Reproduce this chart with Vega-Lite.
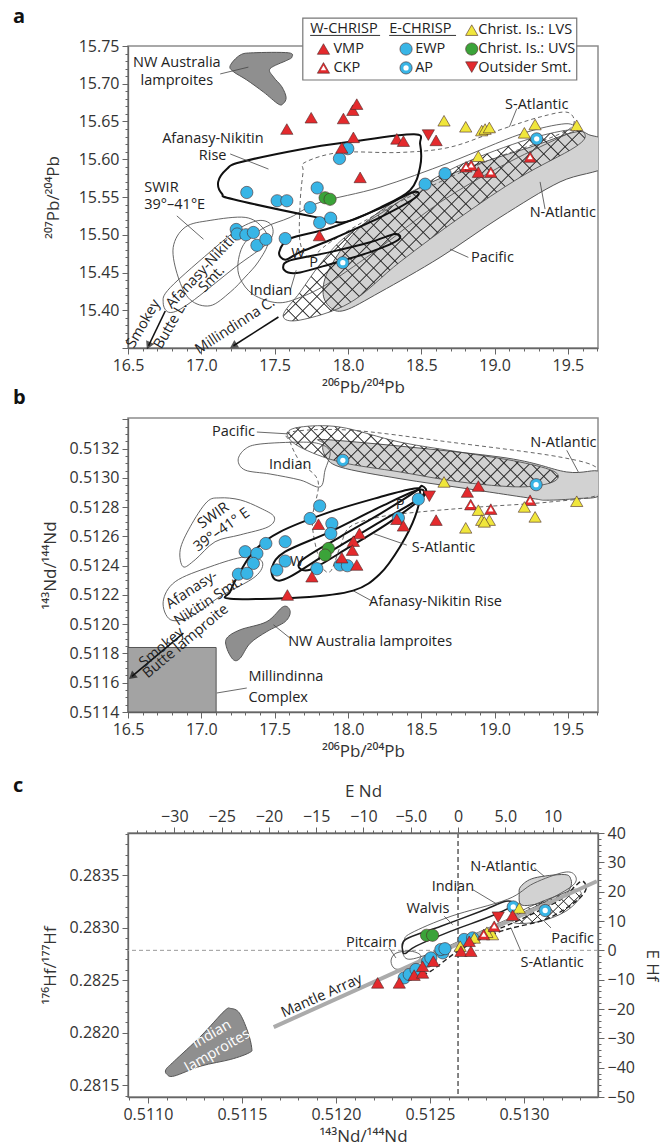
{
"$schema": "https://vega.github.io/schema/vega-lite/v6.json",
"padding": {"left": 12, "top": 6, "right": 4, "bottom": 2},
"config": {
 "font": "Open Sans",
 "view": {"stroke": "#8c8c8c", "strokeWidth": 1.5},
 "axis": {"labelFont": "Open Sans", "labelFontSize": 16, "labelColor": "#333", "titleFont": "Open Sans", "titleFontSize": 17, "titleFontWeight": "normal", "titleColor": "#333", "domainColor": "#666", "domainWidth": 1.3, "tickColor": "#666", "tickWidth": 1, "grid": false, "labelOverlap": false, "labelFlush": false, "labelBound": false, "labelPadding": 3},
 "text": {"font": "Open Sans", "fontSize": 14.5, "color": "#222"},
 "title": {"font": "Open Sans", "fontSize": 20, "fontWeight": "bold", "anchor": "start", "frame": "group", "color": "#111"},
 "style": {
  "hatchA1": {"fill": {"gradient": "linear", "x1": 0, "y1": 0, "x2": 1.2, "y2": 0.756, "stops": [
   {"offset":0,"color":"transparent"},{"offset":0.0025,"color":"#333"},{"offset":0.005,"color":"transparent"},
   {"offset":0.028,"color":"transparent"},{"offset":0.0305,"color":"#333"},{"offset":0.033,"color":"transparent"},
   {"offset":0.056,"color":"transparent"},{"offset":0.0585,"color":"#333"},{"offset":0.061,"color":"transparent"},
   {"offset":0.084,"color":"transparent"},{"offset":0.0865,"color":"#333"},{"offset":0.089,"color":"transparent"},
   {"offset":0.112,"color":"transparent"},{"offset":0.1145,"color":"#333"},{"offset":0.117,"color":"transparent"},
   {"offset":0.14,"color":"transparent"},{"offset":0.1425,"color":"#333"},{"offset":0.145,"color":"transparent"},
   {"offset":0.168,"color":"transparent"},{"offset":0.1705,"color":"#333"},{"offset":0.173,"color":"transparent"},
   {"offset":0.196,"color":"transparent"},{"offset":0.1985,"color":"#333"},{"offset":0.201,"color":"transparent"},
   {"offset":0.224,"color":"transparent"},{"offset":0.2265,"color":"#333"},{"offset":0.229,"color":"transparent"},
   {"offset":0.252,"color":"transparent"},{"offset":0.2545,"color":"#333"},{"offset":0.257,"color":"transparent"},
   {"offset":0.28,"color":"transparent"},{"offset":0.2825,"color":"#333"},{"offset":0.285,"color":"transparent"},
   {"offset":0.308,"color":"transparent"},{"offset":0.3105,"color":"#333"},{"offset":0.313,"color":"transparent"},
   {"offset":0.336,"color":"transparent"},{"offset":0.3385,"color":"#333"},{"offset":0.341,"color":"transparent"},
   {"offset":0.364,"color":"transparent"},{"offset":0.3665,"color":"#333"},{"offset":0.369,"color":"transparent"},
   {"offset":0.392,"color":"transparent"},{"offset":0.3945,"color":"#333"},{"offset":0.397,"color":"transparent"},
   {"offset":0.42,"color":"transparent"},{"offset":0.4225,"color":"#333"},{"offset":0.425,"color":"transparent"},
   {"offset":0.448,"color":"transparent"},{"offset":0.4505,"color":"#333"},{"offset":0.453,"color":"transparent"},
   {"offset":0.476,"color":"transparent"},{"offset":0.4785,"color":"#333"},{"offset":0.481,"color":"transparent"},
   {"offset":0.504,"color":"transparent"},{"offset":0.5065,"color":"#333"},{"offset":0.509,"color":"transparent"},
   {"offset":0.532,"color":"transparent"},{"offset":0.5345,"color":"#333"},{"offset":0.537,"color":"transparent"},
   {"offset":0.56,"color":"transparent"},{"offset":0.5625,"color":"#333"},{"offset":0.565,"color":"transparent"},
   {"offset":0.588,"color":"transparent"},{"offset":0.5905,"color":"#333"},{"offset":0.593,"color":"transparent"},
   {"offset":0.616,"color":"transparent"},{"offset":0.6185,"color":"#333"},{"offset":0.621,"color":"transparent"},
   {"offset":0.644,"color":"transparent"},{"offset":0.6465,"color":"#333"},{"offset":0.649,"color":"transparent"},
   {"offset":0.672,"color":"transparent"},{"offset":0.6745,"color":"#333"},{"offset":0.677,"color":"transparent"},
   {"offset":0.7,"color":"transparent"},{"offset":0.7025,"color":"#333"},{"offset":0.705,"color":"transparent"},
   {"offset":0.728,"color":"transparent"},{"offset":0.7305,"color":"#333"},{"offset":0.733,"color":"transparent"},
   {"offset":0.756,"color":"transparent"},{"offset":0.7585,"color":"#333"},{"offset":0.761,"color":"transparent"},
   {"offset":0.784,"color":"transparent"},{"offset":0.7865,"color":"#333"},{"offset":0.789,"color":"transparent"},
   {"offset":0.812,"color":"transparent"},{"offset":0.8145,"color":"#333"},{"offset":0.817,"color":"transparent"},
   {"offset":0.84,"color":"transparent"},{"offset":0.8425,"color":"#333"},{"offset":0.845,"color":"transparent"},
   {"offset":0.868,"color":"transparent"},{"offset":0.8705,"color":"#333"},{"offset":0.873,"color":"transparent"},
   {"offset":0.896,"color":"transparent"},{"offset":0.8985,"color":"#333"},{"offset":0.901,"color":"transparent"},
   {"offset":0.924,"color":"transparent"},{"offset":0.9265,"color":"#333"},{"offset":0.929,"color":"transparent"},
   {"offset":0.952,"color":"transparent"},{"offset":0.9545,"color":"#333"},{"offset":0.957,"color":"transparent"},
   {"offset":0.98,"color":"transparent"},{"offset":0.9825,"color":"#333"},{"offset":0.985,"color":"transparent"}]}},
  "hatchA2": {"fill": {"gradient": "linear", "x1": 0, "y1": 1, "x2": 1.2, "y2": 0.244, "stops": [
   {"offset":0,"color":"transparent"},{"offset":0.0025,"color":"#333"},{"offset":0.005,"color":"transparent"},
   {"offset":0.028,"color":"transparent"},{"offset":0.0305,"color":"#333"},{"offset":0.033,"color":"transparent"},
   {"offset":0.056,"color":"transparent"},{"offset":0.0585,"color":"#333"},{"offset":0.061,"color":"transparent"},
   {"offset":0.084,"color":"transparent"},{"offset":0.0865,"color":"#333"},{"offset":0.089,"color":"transparent"},
   {"offset":0.112,"color":"transparent"},{"offset":0.1145,"color":"#333"},{"offset":0.117,"color":"transparent"},
   {"offset":0.14,"color":"transparent"},{"offset":0.1425,"color":"#333"},{"offset":0.145,"color":"transparent"},
   {"offset":0.168,"color":"transparent"},{"offset":0.1705,"color":"#333"},{"offset":0.173,"color":"transparent"},
   {"offset":0.196,"color":"transparent"},{"offset":0.1985,"color":"#333"},{"offset":0.201,"color":"transparent"},
   {"offset":0.224,"color":"transparent"},{"offset":0.2265,"color":"#333"},{"offset":0.229,"color":"transparent"},
   {"offset":0.252,"color":"transparent"},{"offset":0.2545,"color":"#333"},{"offset":0.257,"color":"transparent"},
   {"offset":0.28,"color":"transparent"},{"offset":0.2825,"color":"#333"},{"offset":0.285,"color":"transparent"},
   {"offset":0.308,"color":"transparent"},{"offset":0.3105,"color":"#333"},{"offset":0.313,"color":"transparent"},
   {"offset":0.336,"color":"transparent"},{"offset":0.3385,"color":"#333"},{"offset":0.341,"color":"transparent"},
   {"offset":0.364,"color":"transparent"},{"offset":0.3665,"color":"#333"},{"offset":0.369,"color":"transparent"},
   {"offset":0.392,"color":"transparent"},{"offset":0.3945,"color":"#333"},{"offset":0.397,"color":"transparent"},
   {"offset":0.42,"color":"transparent"},{"offset":0.4225,"color":"#333"},{"offset":0.425,"color":"transparent"},
   {"offset":0.448,"color":"transparent"},{"offset":0.4505,"color":"#333"},{"offset":0.453,"color":"transparent"},
   {"offset":0.476,"color":"transparent"},{"offset":0.4785,"color":"#333"},{"offset":0.481,"color":"transparent"},
   {"offset":0.504,"color":"transparent"},{"offset":0.5065,"color":"#333"},{"offset":0.509,"color":"transparent"},
   {"offset":0.532,"color":"transparent"},{"offset":0.5345,"color":"#333"},{"offset":0.537,"color":"transparent"},
   {"offset":0.56,"color":"transparent"},{"offset":0.5625,"color":"#333"},{"offset":0.565,"color":"transparent"},
   {"offset":0.588,"color":"transparent"},{"offset":0.5905,"color":"#333"},{"offset":0.593,"color":"transparent"},
   {"offset":0.616,"color":"transparent"},{"offset":0.6185,"color":"#333"},{"offset":0.621,"color":"transparent"},
   {"offset":0.644,"color":"transparent"},{"offset":0.6465,"color":"#333"},{"offset":0.649,"color":"transparent"},
   {"offset":0.672,"color":"transparent"},{"offset":0.6745,"color":"#333"},{"offset":0.677,"color":"transparent"},
   {"offset":0.7,"color":"transparent"},{"offset":0.7025,"color":"#333"},{"offset":0.705,"color":"transparent"},
   {"offset":0.728,"color":"transparent"},{"offset":0.7305,"color":"#333"},{"offset":0.733,"color":"transparent"},
   {"offset":0.756,"color":"transparent"},{"offset":0.7585,"color":"#333"},{"offset":0.761,"color":"transparent"},
   {"offset":0.784,"color":"transparent"},{"offset":0.7865,"color":"#333"},{"offset":0.789,"color":"transparent"},
   {"offset":0.812,"color":"transparent"},{"offset":0.8145,"color":"#333"},{"offset":0.817,"color":"transparent"},
   {"offset":0.84,"color":"transparent"},{"offset":0.8425,"color":"#333"},{"offset":0.845,"color":"transparent"},
   {"offset":0.868,"color":"transparent"},{"offset":0.8705,"color":"#333"},{"offset":0.873,"color":"transparent"},
   {"offset":0.896,"color":"transparent"},{"offset":0.8985,"color":"#333"},{"offset":0.901,"color":"transparent"},
   {"offset":0.924,"color":"transparent"},{"offset":0.9265,"color":"#333"},{"offset":0.929,"color":"transparent"},
   {"offset":0.952,"color":"transparent"},{"offset":0.9545,"color":"#333"},{"offset":0.957,"color":"transparent"},
   {"offset":0.98,"color":"transparent"},{"offset":0.9825,"color":"#333"},{"offset":0.985,"color":"transparent"}]}},
  "hatchB1": {"fill": {"gradient": "linear", "x1": 0, "y1": 0, "x2": 1.166, "y2": 0.261, "stops": [
   {"offset":0,"color":"transparent"},{"offset":0.004,"color":"#333"},{"offset":0.008,"color":"transparent"},
   {"offset":0.04,"color":"transparent"},{"offset":0.044,"color":"#333"},{"offset":0.048,"color":"transparent"},
   {"offset":0.08,"color":"transparent"},{"offset":0.084,"color":"#333"},{"offset":0.088,"color":"transparent"},
   {"offset":0.12,"color":"transparent"},{"offset":0.124,"color":"#333"},{"offset":0.128,"color":"transparent"},
   {"offset":0.16,"color":"transparent"},{"offset":0.164,"color":"#333"},{"offset":0.168,"color":"transparent"},
   {"offset":0.2,"color":"transparent"},{"offset":0.204,"color":"#333"},{"offset":0.208,"color":"transparent"},
   {"offset":0.24,"color":"transparent"},{"offset":0.244,"color":"#333"},{"offset":0.248,"color":"transparent"},
   {"offset":0.28,"color":"transparent"},{"offset":0.284,"color":"#333"},{"offset":0.288,"color":"transparent"},
   {"offset":0.32,"color":"transparent"},{"offset":0.324,"color":"#333"},{"offset":0.328,"color":"transparent"},
   {"offset":0.36,"color":"transparent"},{"offset":0.364,"color":"#333"},{"offset":0.368,"color":"transparent"},
   {"offset":0.4,"color":"transparent"},{"offset":0.404,"color":"#333"},{"offset":0.408,"color":"transparent"},
   {"offset":0.44,"color":"transparent"},{"offset":0.444,"color":"#333"},{"offset":0.448,"color":"transparent"},
   {"offset":0.48,"color":"transparent"},{"offset":0.484,"color":"#333"},{"offset":0.488,"color":"transparent"},
   {"offset":0.52,"color":"transparent"},{"offset":0.524,"color":"#333"},{"offset":0.528,"color":"transparent"},
   {"offset":0.56,"color":"transparent"},{"offset":0.564,"color":"#333"},{"offset":0.568,"color":"transparent"},
   {"offset":0.6,"color":"transparent"},{"offset":0.604,"color":"#333"},{"offset":0.608,"color":"transparent"},
   {"offset":0.64,"color":"transparent"},{"offset":0.644,"color":"#333"},{"offset":0.648,"color":"transparent"},
   {"offset":0.68,"color":"transparent"},{"offset":0.684,"color":"#333"},{"offset":0.688,"color":"transparent"},
   {"offset":0.72,"color":"transparent"},{"offset":0.724,"color":"#333"},{"offset":0.728,"color":"transparent"},
   {"offset":0.76,"color":"transparent"},{"offset":0.764,"color":"#333"},{"offset":0.768,"color":"transparent"},
   {"offset":0.8,"color":"transparent"},{"offset":0.804,"color":"#333"},{"offset":0.808,"color":"transparent"},
   {"offset":0.84,"color":"transparent"},{"offset":0.844,"color":"#333"},{"offset":0.848,"color":"transparent"},
   {"offset":0.88,"color":"transparent"},{"offset":0.884,"color":"#333"},{"offset":0.888,"color":"transparent"},
   {"offset":0.92,"color":"transparent"},{"offset":0.924,"color":"#333"},{"offset":0.928,"color":"transparent"},
   {"offset":0.96,"color":"transparent"},{"offset":0.964,"color":"#333"},{"offset":0.968,"color":"transparent"}]}},
  "hatchB2": {"fill": {"gradient": "linear", "x1": 0, "y1": 1, "x2": 1.166, "y2": 0.739, "stops": [
   {"offset":0,"color":"transparent"},{"offset":0.004,"color":"#333"},{"offset":0.008,"color":"transparent"},
   {"offset":0.04,"color":"transparent"},{"offset":0.044,"color":"#333"},{"offset":0.048,"color":"transparent"},
   {"offset":0.08,"color":"transparent"},{"offset":0.084,"color":"#333"},{"offset":0.088,"color":"transparent"},
   {"offset":0.12,"color":"transparent"},{"offset":0.124,"color":"#333"},{"offset":0.128,"color":"transparent"},
   {"offset":0.16,"color":"transparent"},{"offset":0.164,"color":"#333"},{"offset":0.168,"color":"transparent"},
   {"offset":0.2,"color":"transparent"},{"offset":0.204,"color":"#333"},{"offset":0.208,"color":"transparent"},
   {"offset":0.24,"color":"transparent"},{"offset":0.244,"color":"#333"},{"offset":0.248,"color":"transparent"},
   {"offset":0.28,"color":"transparent"},{"offset":0.284,"color":"#333"},{"offset":0.288,"color":"transparent"},
   {"offset":0.32,"color":"transparent"},{"offset":0.324,"color":"#333"},{"offset":0.328,"color":"transparent"},
   {"offset":0.36,"color":"transparent"},{"offset":0.364,"color":"#333"},{"offset":0.368,"color":"transparent"},
   {"offset":0.4,"color":"transparent"},{"offset":0.404,"color":"#333"},{"offset":0.408,"color":"transparent"},
   {"offset":0.44,"color":"transparent"},{"offset":0.444,"color":"#333"},{"offset":0.448,"color":"transparent"},
   {"offset":0.48,"color":"transparent"},{"offset":0.484,"color":"#333"},{"offset":0.488,"color":"transparent"},
   {"offset":0.52,"color":"transparent"},{"offset":0.524,"color":"#333"},{"offset":0.528,"color":"transparent"},
   {"offset":0.56,"color":"transparent"},{"offset":0.564,"color":"#333"},{"offset":0.568,"color":"transparent"},
   {"offset":0.6,"color":"transparent"},{"offset":0.604,"color":"#333"},{"offset":0.608,"color":"transparent"},
   {"offset":0.64,"color":"transparent"},{"offset":0.644,"color":"#333"},{"offset":0.648,"color":"transparent"},
   {"offset":0.68,"color":"transparent"},{"offset":0.684,"color":"#333"},{"offset":0.688,"color":"transparent"},
   {"offset":0.72,"color":"transparent"},{"offset":0.724,"color":"#333"},{"offset":0.728,"color":"transparent"},
   {"offset":0.76,"color":"transparent"},{"offset":0.764,"color":"#333"},{"offset":0.768,"color":"transparent"},
   {"offset":0.8,"color":"transparent"},{"offset":0.804,"color":"#333"},{"offset":0.808,"color":"transparent"},
   {"offset":0.84,"color":"transparent"},{"offset":0.844,"color":"#333"},{"offset":0.848,"color":"transparent"},
   {"offset":0.88,"color":"transparent"},{"offset":0.884,"color":"#333"},{"offset":0.888,"color":"transparent"},
   {"offset":0.92,"color":"transparent"},{"offset":0.924,"color":"#333"},{"offset":0.928,"color":"transparent"},
   {"offset":0.96,"color":"transparent"},{"offset":0.964,"color":"#333"},{"offset":0.968,"color":"transparent"}]}},
  "hatchC1": {"fill": {"gradient": "linear", "x1": 0, "y1": 0, "x2": 1.2, "y2": 0.608, "stops": [
   {"offset":0,"color":"transparent"},{"offset":0.01,"color":"#333"},{"offset":0.02,"color":"transparent"},
   {"offset":0.1,"color":"transparent"},{"offset":0.11,"color":"#333"},{"offset":0.12,"color":"transparent"},
   {"offset":0.2,"color":"transparent"},{"offset":0.21,"color":"#333"},{"offset":0.22,"color":"transparent"},
   {"offset":0.3,"color":"transparent"},{"offset":0.31,"color":"#333"},{"offset":0.32,"color":"transparent"},
   {"offset":0.4,"color":"transparent"},{"offset":0.41,"color":"#333"},{"offset":0.42,"color":"transparent"},
   {"offset":0.5,"color":"transparent"},{"offset":0.51,"color":"#333"},{"offset":0.52,"color":"transparent"},
   {"offset":0.6,"color":"transparent"},{"offset":0.61,"color":"#333"},{"offset":0.62,"color":"transparent"},
   {"offset":0.7,"color":"transparent"},{"offset":0.71,"color":"#333"},{"offset":0.72,"color":"transparent"},
   {"offset":0.8,"color":"transparent"},{"offset":0.81,"color":"#333"},{"offset":0.82,"color":"transparent"},
   {"offset":0.9,"color":"transparent"},{"offset":0.91,"color":"#333"},{"offset":0.92,"color":"transparent"}]}},
  "hatchC2": {"fill": {"gradient": "linear", "x1": 0, "y1": 1, "x2": 1.2, "y2": 0.392, "stops": [
   {"offset":0,"color":"transparent"},{"offset":0.01,"color":"#333"},{"offset":0.02,"color":"transparent"},
   {"offset":0.1,"color":"transparent"},{"offset":0.11,"color":"#333"},{"offset":0.12,"color":"transparent"},
   {"offset":0.2,"color":"transparent"},{"offset":0.21,"color":"#333"},{"offset":0.22,"color":"transparent"},
   {"offset":0.3,"color":"transparent"},{"offset":0.31,"color":"#333"},{"offset":0.32,"color":"transparent"},
   {"offset":0.4,"color":"transparent"},{"offset":0.41,"color":"#333"},{"offset":0.42,"color":"transparent"},
   {"offset":0.5,"color":"transparent"},{"offset":0.51,"color":"#333"},{"offset":0.52,"color":"transparent"},
   {"offset":0.6,"color":"transparent"},{"offset":0.61,"color":"#333"},{"offset":0.62,"color":"transparent"},
   {"offset":0.7,"color":"transparent"},{"offset":0.71,"color":"#333"},{"offset":0.72,"color":"transparent"},
   {"offset":0.8,"color":"transparent"},{"offset":0.81,"color":"#333"},{"offset":0.82,"color":"transparent"},
   {"offset":0.9,"color":"transparent"},{"offset":0.91,"color":"#333"},{"offset":0.92,"color":"transparent"}]}}
 }
},
"bounds": "full",
"spacing": 15,
"vconcat": [
{
"bounds": "flush",
"spacing": 70,
"vconcat": [
{
 "width": 470, "height": 302,
 "title": {"text": "a", "dx": -115, "offset": -10},
 "encoding": {
  "x": {"field": "x", "type": "quantitative", "scale": {"domain": [16.5, 19.705]},
   "axis": {"title": "²⁰⁶Pb/²⁰⁴Pb", "titlePadding": 6, "labelOverlap": false, "values": [16.5,16.6,16.7,16.8,16.9,17,17.1,17.2,17.3,17.4,17.5,17.6,17.7,17.8,17.9,18,18.1,18.2,18.3,18.4,18.5,18.6,18.7,18.8,18.9,19,19.1,19.2,19.3,19.4,19.5,19.6,19.7],
    "labelExpr": "abs(datum.value*2-round(datum.value*2))<0.01 ? format(datum.value,'.1f') : ''",
    "tickSize": {"condition": {"test": "abs(datum.value*2-round(datum.value*2))<0.01", "value": 6}, "value": 3}}},
  "y": {"field": "y", "type": "quantitative", "scale": {"domain": [15.35, 15.75]},
   "axis": {"title": "²⁰⁷Pb/²⁰⁴Pb", "titlePadding": 16, "labelOverlap": false, "values": [15.35,15.36,15.37,15.38,15.39,15.4,15.41,15.42,15.43,15.44,15.45,15.46,15.47,15.48,15.49,15.5,15.51,15.52,15.53,15.54,15.55,15.56,15.57,15.58,15.59,15.6,15.61,15.62,15.63,15.64,15.65,15.66,15.67,15.68,15.69,15.7,15.71,15.72,15.73,15.74,15.75],
    "labelExpr": "abs(datum.value*20-round(datum.value*20))<0.01 && datum.value>15.37 ? format(datum.value,'.2f') : ''",
    "tickSize": {"condition": {"test": "abs(datum.value*20-round(datum.value*20))<0.01", "value": 6}, "value": 3}}}
 },
 "layer": [
  {"data": {"values": [
   {"s":"NA","i":0,"x":17.830,"y":15.424},{"s":"NA","i":1,"x":17.878,"y":15.457},{"s":"NA","i":2,"x":18.083,"y":15.510},{"s":"NA","i":3,"x":18.424,"y":15.556},{"s":"NA","i":4,"x":18.833,"y":15.590},{"s":"NA","i":5,"x":19.242,"y":15.616},{"s":"NA","i":6,"x":19.548,"y":15.636},{"s":"NA","i":7,"x":19.650,"y":15.632},{"s":"NA","i":8,"x":19.755,"y":15.623},{"s":"NA","i":9,"x":19.755,"y":15.590},{"s":"NA","i":10,"x":19.446,"y":15.570},{"s":"NA","i":11,"x":19.037,"y":15.523},{"s":"NA","i":12,"x":18.628,"y":15.470},{"s":"NA","i":13,"x":18.219,"y":15.424},{"s":"NA","i":14,"x":17.980,"y":15.400},{"s":"NA","i":15,"x":17.878,"y":15.404}]},
   "mark": {"type": "line", "interpolate": "cardinal-closed", "fill": "#d2d2d2", "stroke": "#555", "strokeWidth": 1, "clip": true},
   "encoding": {"detail": {"field": "s"}, "order": {"field": "i"}}},
  {"data": {"values": [
   {"s":"PA","i":0,"x":17.558,"y":15.393},{"s":"PA","i":1,"x":17.674,"y":15.424},{"s":"PA","i":2,"x":17.810,"y":15.461},{"s":"PA","i":3,"x":17.981,"y":15.497},{"s":"PA","i":4,"x":18.287,"y":15.536},{"s":"PA","i":5,"x":18.696,"y":15.586},{"s":"PA","i":6,"x":19.173,"y":15.623},{"s":"PA","i":7,"x":19.514,"y":15.639},{"s":"PA","i":8,"x":19.616,"y":15.633},{"s":"PA","i":9,"x":19.548,"y":15.616},{"s":"PA","i":10,"x":19.173,"y":15.576},{"s":"PA","i":11,"x":18.764,"y":15.523},{"s":"PA","i":12,"x":18.355,"y":15.464},{"s":"PA","i":13,"x":18.014,"y":15.410},{"s":"PA","i":14,"x":17.674,"y":15.387}]},
   "encoding": {"detail": {"field": "s"}, "order": {"field": "i"}},
   "layer": [
    {"mark": {"type": "line", "interpolate": "cardinal-closed", "style": "hatchA1", "strokeWidth": 0}},
    {"mark": {"type": "line", "interpolate": "cardinal-closed", "style": "hatchA2", "stroke": "#444", "strokeWidth": 0.8}}
   ]},
  {"data": {"values": [
   {"s":"NW","i":0,"x":17.197,"y":15.724},{"s":"NW","i":1,"x":17.265,"y":15.738},{"s":"NW","i":2,"x":17.355,"y":15.741},{"s":"NW","i":3,"x":17.594,"y":15.741},{"s":"NW","i":4,"x":17.617,"y":15.735},{"s":"NW","i":5,"x":17.583,"y":15.731},{"s":"NW","i":6,"x":17.469,"y":15.720},{"s":"NW","i":7,"x":17.492,"y":15.709},{"s":"NW","i":8,"x":17.549,"y":15.696},{"s":"NW","i":9,"x":17.578,"y":15.682},{"s":"NW","i":10,"x":17.560,"y":15.674},{"s":"NW","i":11,"x":17.526,"y":15.673},{"s":"NW","i":12,"x":17.424,"y":15.689},{"s":"NW","i":13,"x":17.310,"y":15.705},{"s":"NW","i":14,"x":17.219,"y":15.716}]},
   "mark": {"type": "line", "interpolate": "cardinal-closed", "fill": "#8f8f8f", "stroke": "#555", "strokeWidth": 1},
   "encoding": {"detail": {"field": "s"}, "order": {"field": "i"}}},
  {"data": {"values": [
   {"s":"IN","i":0,"x":17.265,"y":15.442},{"s":"IN","i":1,"x":17.353,"y":15.421},{"s":"IN","i":2,"x":17.517,"y":15.410},{"s":"IN","i":3,"x":17.674,"y":15.417},{"s":"IN","i":4,"x":17.878,"y":15.437},{"s":"IN","i":5,"x":18.219,"y":15.483},{"s":"IN","i":6,"x":18.628,"y":15.543},{"s":"IN","i":7,"x":19.037,"y":15.590},{"s":"IN","i":8,"x":19.446,"y":15.629},{"s":"IN","i":9,"x":19.548,"y":15.639},{"s":"IN","i":10,"x":19.480,"y":15.647},{"s":"IN","i":11,"x":19.173,"y":15.633},{"s":"IN","i":12,"x":18.696,"y":15.596},{"s":"IN","i":13,"x":18.219,"y":15.563},{"s":"IN","i":14,"x":17.810,"y":15.543},{"s":"IN","i":15,"x":17.606,"y":15.523},{"s":"IN","i":16,"x":17.435,"y":15.510},{"s":"IN","i":17,"x":17.299,"y":15.490},{"s":"IN","i":18,"x":17.251,"y":15.464},
   {"s":"SW","i":0,"x":16.808,"y":15.483},{"s":"SW","i":1,"x":16.890,"y":15.510},{"s":"SW","i":2,"x":17.060,"y":15.519},{"s":"SW","i":3,"x":17.299,"y":15.523},{"s":"SW","i":4,"x":17.415,"y":15.510},{"s":"SW","i":5,"x":17.456,"y":15.490},{"s":"SW","i":6,"x":17.388,"y":15.464},{"s":"SW","i":7,"x":17.299,"y":15.444},{"s":"SW","i":8,"x":17.197,"y":15.424},{"s":"SW","i":9,"x":17.060,"y":15.406},{"s":"SW","i":10,"x":16.924,"y":15.414},{"s":"SW","i":11,"x":16.842,"y":15.444},
   {"s":"AS","i":0,"x":16.740,"y":15.410},{"s":"AS","i":1,"x":16.788,"y":15.430},{"s":"AS","i":2,"x":17.094,"y":15.483},{"s":"AS","i":3,"x":17.265,"y":15.509},{"s":"AS","i":4,"x":17.401,"y":15.519},{"s":"AS","i":5,"x":17.483,"y":15.511},{"s":"AS","i":6,"x":17.456,"y":15.490},{"s":"AS","i":7,"x":17.231,"y":15.457},{"s":"AS","i":8,"x":16.924,"y":15.410},{"s":"AS","i":9,"x":16.788,"y":15.397}]},
   "mark": {"type": "line", "interpolate": "cardinal-closed", "stroke": "#555", "strokeWidth": 0.9},
   "encoding": {"detail": {"field": "s"}, "order": {"field": "i"}}},
  {"data": {"values": [
   {"s":"SA","i":0,"x":17.708,"y":15.596},{"s":"SA","i":1,"x":17.947,"y":15.609},{"s":"SA","i":2,"x":18.355,"y":15.609},{"s":"SA","i":3,"x":18.696,"y":15.616},{"s":"SA","i":4,"x":19.037,"y":15.639},{"s":"SA","i":5,"x":19.310,"y":15.656},{"s":"SA","i":6,"x":19.501,"y":15.662},{"s":"SA","i":7,"x":19.528,"y":15.643},{"s":"SA","i":8,"x":19.310,"y":15.623},{"s":"SA","i":9,"x":18.969,"y":15.599},{"s":"SA","i":10,"x":18.628,"y":15.570},{"s":"SA","i":11,"x":18.219,"y":15.530},{"s":"SA","i":12,"x":17.878,"y":15.490},{"s":"SA","i":13,"x":17.742,"y":15.470},{"s":"SA","i":14,"x":17.674,"y":15.490},{"s":"SA","i":15,"x":17.674,"y":15.543},{"s":"SA","i":16,"x":17.694,"y":15.583}]},
   "mark": {"type": "line", "interpolate": "cardinal-closed", "stroke": "#555", "strokeWidth": 0.9, "strokeDash": [4, 3]},
   "encoding": {"detail": {"field": "s"}, "order": {"field": "i"}}},
  {"data": {"values": [
   {"s":"AR","i":0,"x":17.265,"y":15.596},{"s":"AR","i":1,"x":17.174,"y":15.587},{"s":"AR","i":2,"x":17.115,"y":15.570},{"s":"AR","i":3,"x":17.142,"y":15.554},{"s":"AR","i":4,"x":17.217,"y":15.547},{"s":"AR","i":5,"x":17.788,"y":15.523},{"s":"AR","i":6,"x":17.981,"y":15.517},{"s":"AR","i":7,"x":18.219,"y":15.536},{"s":"AR","i":8,"x":18.424,"y":15.559},{"s":"AR","i":9,"x":18.492,"y":15.590},{"s":"AR","i":10,"x":18.492,"y":15.620},{"s":"AR","i":11,"x":18.451,"y":15.633},{"s":"AR","i":12,"x":18.014,"y":15.623},{"s":"AR","i":13,"x":17.674,"y":15.613},
   {"s":"W","i":0,"x":17.531,"y":15.477},{"s":"W","i":1,"x":17.606,"y":15.495},{"s":"W","i":2,"x":17.878,"y":15.509},{"s":"W","i":3,"x":18.219,"y":15.535},{"s":"W","i":4,"x":18.437,"y":15.556},{"s":"W","i":5,"x":18.465,"y":15.550},{"s":"W","i":6,"x":18.219,"y":15.523},{"s":"W","i":7,"x":17.878,"y":15.493},{"s":"W","i":8,"x":17.674,"y":15.477},{"s":"W","i":9,"x":17.572,"y":15.467},
   {"s":"P","i":0,"x":17.558,"y":15.457},{"s":"P","i":1,"x":17.606,"y":15.466},{"s":"P","i":2,"x":17.878,"y":15.477},{"s":"P","i":3,"x":18.151,"y":15.490},{"s":"P","i":4,"x":18.321,"y":15.501},{"s":"P","i":5,"x":18.342,"y":15.493},{"s":"P","i":6,"x":18.151,"y":15.477},{"s":"P","i":7,"x":17.878,"y":15.461},{"s":"P","i":8,"x":17.674,"y":15.450},{"s":"P","i":9,"x":17.592,"y":15.450}]},
   "mark": {"type": "line", "interpolate": "cardinal-closed", "stroke": "#111", "strokeWidth": 2},
   "encoding": {"detail": {"field": "s"}, "order": {"field": "i"}}},
  {"data": {"values": [
   {"x":17.129,"y":15.713,"x2":17.321,"y2":15.722},{"x":17.197,"y":15.607,"x2":17.458,"y2":15.587},{"x":16.833,"y":15.525,"x2":17.015,"y2":15.494},{"x":18.821,"y":15.470,"x2":18.696,"y2":15.481},{"x":19.344,"y":15.534,"x2":19.310,"y2":15.570},{"x":19.151,"y":15.667,"x2":19.101,"y2":15.643},{"x":17.606,"y":15.426,"x2":17.647,"y2":15.453}]},
   "mark": {"type": "rule", "stroke": "#444", "strokeWidth": 0.8},
   "encoding": {"x2": {"field": "x2"}, "y2": {"field": "y2"}}},
  {"data": {"values": [{"s":"S","x":16.754,"y":15.399,"x2":16.640,"y2":15.353},{"s":"M","x":17.526,"y":15.391,"x2":17.219,"y2":15.353}]},
   "mark": {"type": "rule", "stroke": "#111", "strokeWidth": 1.6},
   "encoding": {"x2": {"field": "x2"}, "y2": {"field": "y2"}}},
  {"data": {"values": [{"x":16.640,"y":15.353}]},
   "mark": {"type": "point", "shape": "triangle-up", "filled": true, "color": "#111", "size": 80, "angle": 205}},
  {"data": {"values": [{"x":17.219,"y":15.353}]},
   "mark": {"type": "point", "shape": "triangle-up", "filled": true, "color": "#111", "size": 80, "angle": 238}},
  {"data": {"values": [
   {"t":"NW Australia","x":16.833,"y":15.727},{"t":"lamproites","x":16.833,"y":15.703},{"t":"Afanasy-Nikitin","x":17.079,"y":15.627},{"t":"Rise","x":17.077,"y":15.604},{"t":"Indian","x":17.475,"y":15.425},{"t":"W","x":17.658,"y":15.475},{"t":"P","x":17.765,"y":15.462},{"t":"Pacific","x":18.985,"y":15.469},{"t":"N-Atlantic","x":19.465,"y":15.529},{"t":"S-Atlantic","x":19.287,"y":15.672}]},
   "mark": {"type": "text", "align": "center", "baseline": "middle"},
   "encoding": {"text": {"field": "t"}}},
  {"data": {"values": [{"t":"SWIR","x":16.611,"y":15.562},{"t":"39°–41°E","x":16.611,"y":15.539}]},
   "mark": {"type": "text", "align": "left", "baseline": "middle"},
   "encoding": {"text": {"field": "t"}}},
  {"data": {"values": [{"t":"Smokey","x":16.606,"y":15.382},{"t":"Butte L.","x":16.792,"y":15.380}]},
   "mark": {"type": "text", "align": "center", "baseline": "middle", "angle": 300},
   "encoding": {"text": {"field": "t"}}},
  {"data": {"values": [{"t":"Millindinna C.","x":17.231,"y":15.379}]},
   "mark": {"type": "text", "align": "center", "baseline": "middle", "angle": 327},
   "encoding": {"text": {"field": "t"}}},
  {"data": {"values": [{"t":"Afanasy-Nikitin","x":17.015,"y":15.454},{"t":"Smt.","x":17.072,"y":15.441}]},
   "mark": {"type": "text", "align": "center", "baseline": "middle", "angle": 313},
   "encoding": {"text": {"field": "t"}}},
  {"data": {"values": [
   {"g":"EWP","x":17.310,"y":15.556},{"g":"EWP","x":17.517,"y":15.545},{"g":"EWP","x":17.583,"y":15.545},{"g":"EWP","x":17.790,"y":15.562},{"g":"EWP","x":17.742,"y":15.536},{"g":"EWP","x":17.807,"y":15.516},{"g":"EWP","x":17.882,"y":15.522},{"g":"EWP","x":17.238,"y":15.507},{"g":"EWP","x":17.244,"y":15.501},{"g":"EWP","x":17.304,"y":15.500},{"g":"EWP","x":17.355,"y":15.503},{"g":"EWP","x":17.379,"y":15.486},{"g":"EWP","x":17.440,"y":15.494},{"g":"EWP","x":17.572,"y":15.495},{"g":"EWP","x":17.942,"y":15.601},{"g":"EWP","x":17.999,"y":15.614},{"g":"EWP","x":18.526,"y":15.567},{"g":"EWP","x":18.662,"y":15.581},
   {"g":"AP","x":19.287,"y":15.627},{"g":"AP","x":17.965,"y":15.463},
   {"g":"UVS","x":17.844,"y":15.549},{"g":"UVS","x":17.878,"y":15.547},
   {"g":"VMP","x":17.583,"y":15.640},{"g":"VMP","x":17.749,"y":15.655},{"g":"VMP","x":17.969,"y":15.654},{"g":"VMP","x":18.033,"y":15.665},{"g":"VMP","x":18.060,"y":15.673},{"g":"VMP","x":18.037,"y":15.629},{"g":"VMP","x":17.958,"y":15.615},{"g":"VMP","x":18.083,"y":15.576},{"g":"VMP","x":18.333,"y":15.627},{"g":"VMP","x":18.378,"y":15.624},{"g":"VMP","x":18.601,"y":15.625},{"g":"VMP","x":18.889,"y":15.583},{"g":"VMP","x":17.805,"y":15.499},
   {"g":"OUT","x":18.548,"y":15.632},
   {"g":"CKP","x":18.805,"y":15.590},{"g":"CKP","x":18.840,"y":15.592},{"g":"CKP","x":18.974,"y":15.583},{"g":"CKP","x":19.242,"y":15.603},
   {"g":"LVS","x":18.655,"y":15.651},{"g":"LVS","x":18.803,"y":15.643},{"g":"LVS","x":18.912,"y":15.638},{"g":"LVS","x":18.935,"y":15.640},{"g":"LVS","x":18.964,"y":15.642},{"g":"LVS","x":19.203,"y":15.635},{"g":"LVS","x":19.276,"y":15.646},{"g":"LVS","x":19.560,"y":15.645},{"g":"LVS","x":18.889,"y":15.604}]},
   "layer": [
    {"mark": {"type": "point", "filled": true, "size": 150, "stroke": "#4a2a2a", "strokeWidth": 0.6, "opacity": 1},
     "encoding": {
      "shape": {"field": "g", "type": "nominal", "scale": {"domain": ["VMP","CKP","EWP","AP","LVS","UVS","OUT"], "range": ["triangle-up","triangle-up","circle","circle","triangle-up","circle","triangle-down"]}, "legend": null},
      "fill": {"field": "g", "type": "nominal", "scale": {"domain": ["VMP","CKP","EWP","AP","LVS","UVS","OUT"], "range": ["#e42a2d","#e42a2d","#38b5e6","#38b5e6","#f0e63c","#3ba339","#e42a2d"]}, "legend": null}}},
    {"transform": [{"filter": "datum.g=='CKP' || datum.g=='AP'"}],
     "mark": {"type": "point", "filled": true, "size": 28, "color": "white", "opacity": 1},
     "encoding": {
      "shape": {"field": "g", "type": "nominal", "scale": {"domain": ["VMP","CKP","EWP","AP","LVS","UVS","OUT"], "range": ["triangle-up","triangle-up","circle","circle","triangle-up","circle","triangle-down"]}, "legend": null}}}
   ]},
  {"data": {"values": [{"x":17.692,"x2":19.560,"y":15.705,"y2":15.787}]},
   "mark": {"type": "rect", "fill": "white", "stroke": "#777", "strokeWidth": 1.2},
   "encoding": {"x2": {"field": "x2"}, "y2": {"field": "y2"}}},
  {"data": {"values": [{"x":17.742,"x2":18.219,"y":15.764,"y2":15.764},{"x":18.281,"x2":18.737,"y":15.764,"y2":15.764}]},
   "mark": {"type": "rule", "stroke": "#333", "strokeWidth": 1},
   "encoding": {"x2": {"field": "x2"}, "y2": {"field": "y2"}}},
  {"data": {"values": [{"g":"VMP","x":17.833,"y":15.746},{"g":"CKP","x":17.833,"y":15.721},{"g":"EWP","x":18.396,"y":15.746},{"g":"AP","x":18.396,"y":15.721},{"g":"LVS","x":18.844,"y":15.771},{"g":"UVS","x":18.844,"y":15.746},{"g":"OUT","x":18.844,"y":15.722}]},
   "layer": [
    {"mark": {"type": "point", "filled": true, "size": 150, "stroke": "#4a2a2a", "strokeWidth": 0.6, "opacity": 1},
     "encoding": {
      "shape": {"field": "g", "type": "nominal", "scale": {"domain": ["VMP","CKP","EWP","AP","LVS","UVS","OUT"], "range": ["triangle-up","triangle-up","circle","circle","triangle-up","circle","triangle-down"]}, "legend": null},
      "fill": {"field": "g", "type": "nominal", "scale": {"domain": ["VMP","CKP","EWP","AP","LVS","UVS","OUT"], "range": ["#e42a2d","#e42a2d","#38b5e6","#38b5e6","#f0e63c","#3ba339","#e42a2d"]}, "legend": null}}},
    {"transform": [{"filter": "datum.g=='CKP' || datum.g=='AP'"}],
     "mark": {"type": "point", "filled": true, "size": 28, "color": "white", "opacity": 1},
     "encoding": {
      "shape": {"field": "g", "type": "nominal", "scale": {"domain": ["VMP","CKP","EWP","AP","LVS","UVS","OUT"], "range": ["triangle-up","triangle-up","circle","circle","triangle-up","circle","triangle-down"]}, "legend": null}}}
   ]},
  {"data": {"values": [{"t":"W-CHRISP","x":17.742,"y":15.773},{"t":"E-CHRISP","x":18.281,"y":15.773},{"t":"VMP","x":17.901,"y":15.746},{"t":"CKP","x":17.901,"y":15.721},{"t":"EWP","x":18.458,"y":15.746},{"t":"AP","x":18.458,"y":15.721},{"t":"Christ. Is.: LVS","x":18.889,"y":15.771},{"t":"Christ. Is.: UVS","x":18.889,"y":15.746},{"t":"Outsider Smt.","x":18.889,"y":15.721}]},
   "mark": {"type": "text", "align": "left", "baseline": "middle", "fontSize": 14.5},
   "encoding": {"text": {"field": "t"}}}
 ]
},
{
 "width": 470, "height": 294,
 "title": {"text": "b", "dx": -115, "offset": 3},
 "encoding": {
  "x": {"field": "x", "type": "quantitative", "scale": {"domain": [16.5, 19.705]},
   "axis": {"title": "²⁰⁶Pb/²⁰⁴Pb", "titlePadding": 6, "labelOverlap": false, "values": [16.5,16.6,16.7,16.8,16.9,17,17.1,17.2,17.3,17.4,17.5,17.6,17.7,17.8,17.9,18,18.1,18.2,18.3,18.4,18.5,18.6,18.7,18.8,18.9,19,19.1,19.2,19.3,19.4,19.5,19.6,19.7],
    "labelExpr": "abs(datum.value*2-round(datum.value*2))<0.01 ? format(datum.value,'.1f') : ''",
    "tickSize": {"condition": {"test": "abs(datum.value*2-round(datum.value*2))<0.01", "value": 6}, "value": 3}}},
  "y": {"field": "y", "type": "quantitative", "scale": {"domain": [0.5114, 0.51341]},
   "axis": {"title": "¹⁴³Nd/¹⁴⁴Nd", "titlePadding": 10, "labelOverlap": false, "values": [0.5114,0.51145,0.5115,0.51155,0.5116,0.51165,0.5117,0.51175,0.5118,0.51185,0.5119,0.51195,0.512,0.51205,0.5121,0.51215,0.5122,0.51225,0.5123,0.51235,0.5124,0.51245,0.5125,0.51255,0.5126,0.51265,0.5127,0.51275,0.5128,0.51285,0.5129,0.51295,0.513,0.51305,0.5131,0.51315,0.5132,0.51325,0.5133,0.51335,0.5134],
    "labelExpr": "abs(datum.value*5000-round(datum.value*5000))<0.01 && datum.value<0.51335 ? format(datum.value,'.4f') : ''",
    "tickSize": {"condition": {"test": "abs(datum.value*5000-round(datum.value*5000))<0.01", "value": 6}, "value": 3}}}
 },
 "layer": [
  {"data": {"values": [
   {"s":"NA","i":0,"x":17.833,"y":0.513234},{"s":"NA","i":1,"x":17.899,"y":0.513259},{"s":"NA","i":2,"x":19.037,"y":0.513143},{"s":"NA","i":3,"x":19.492,"y":0.513041},{"s":"NA","i":4,"x":19.718,"y":0.513041},{"s":"NA","i":5,"x":19.718,"y":0.512884},{"s":"NA","i":6,"x":19.560,"y":0.512859},{"s":"NA","i":7,"x":19.355,"y":0.512848},{"s":"NA","i":8,"x":19.262,"y":0.512859},{"s":"NA","i":9,"x":18.810,"y":0.512927},{"s":"NA","i":10,"x":18.355,"y":0.512995},{"s":"NA","i":11,"x":17.946,"y":0.513075},{"s":"NA","i":12,"x":17.844,"y":0.513155}]},
   "mark": {"type": "line", "interpolate": "cardinal-closed", "fill": "#d2d2d2", "stroke": "#555", "strokeWidth": 1, "clip": true},
   "encoding": {"detail": {"field": "s"}, "order": {"field": "i"}}},
  {"data": {"values": [
   {"s":"PA","i":0,"x":17.585,"y":0.513300},{"s":"PA","i":1,"x":17.674,"y":0.513348},{"s":"PA","i":2,"x":17.947,"y":0.513348},{"s":"PA","i":3,"x":18.355,"y":0.513245},{"s":"PA","i":4,"x":18.764,"y":0.513177},{"s":"PA","i":5,"x":19.173,"y":0.513109},{"s":"PA","i":6,"x":19.412,"y":0.513041},{"s":"PA","i":7,"x":19.398,"y":0.512973},{"s":"PA","i":8,"x":19.173,"y":0.512939},{"s":"PA","i":9,"x":18.764,"y":0.512973},{"s":"PA","i":10,"x":18.355,"y":0.513041},{"s":"PA","i":11,"x":17.947,"y":0.513109},{"s":"PA","i":12,"x":17.674,"y":0.513211}]},
   "encoding": {"detail": {"field": "s"}, "order": {"field": "i"}},
   "layer": [
    {"mark": {"type": "line", "interpolate": "cardinal-closed", "style": "hatchB1", "strokeWidth": 0}},
    {"mark": {"type": "line", "interpolate": "cardinal-closed", "style": "hatchB2", "stroke": "#444", "strokeWidth": 0.8}}
   ]},
  {"data": {"values": [
   {"s":"NW","i":0,"x":17.174,"y":0.511905},{"s":"NW","i":1,"x":17.265,"y":0.511962},{"s":"NW","i":2,"x":17.447,"y":0.512018},{"s":"NW","i":3,"x":17.560,"y":0.512121},{"s":"NW","i":4,"x":17.606,"y":0.512087},{"s":"NW","i":5,"x":17.572,"y":0.512018},{"s":"NW","i":6,"x":17.447,"y":0.511950},{"s":"NW","i":7,"x":17.333,"y":0.511870},{"s":"NW","i":8,"x":17.265,"y":0.511768},{"s":"NW","i":9,"x":17.219,"y":0.511757},{"s":"NW","i":10,"x":17.174,"y":0.511836}]},
   "mark": {"type": "line", "interpolate": "cardinal-closed", "fill": "#8f8f8f", "stroke": "#555", "strokeWidth": 1},
   "encoding": {"detail": {"field": "s"}, "order": {"field": "i"}}},
  {"data": {"values": [{"x":16.5,"x2":17.101,"y":0.5114,"y2":0.511841}]},
   "mark": {"type": "rect", "fill": "#a3a3a3", "stroke": "#555", "strokeWidth": 1},
   "encoding": {"x2": {"field": "x2"}, "y2": {"field": "y2"}}},
  {"data": {"values": [
   {"s":"IN","i":0,"x":17.251,"y":0.513123},{"s":"IN","i":1,"x":17.299,"y":0.513198},{"s":"IN","i":2,"x":17.401,"y":0.513232},{"s":"IN","i":3,"x":17.674,"y":0.513245},{"s":"IN","i":4,"x":17.810,"y":0.513232},{"s":"IN","i":5,"x":17.878,"y":0.513177},{"s":"IN","i":6,"x":17.844,"y":0.513054},{"s":"IN","i":7,"x":17.810,"y":0.512939},{"s":"IN","i":8,"x":17.674,"y":0.512986},{"s":"IN","i":9,"x":17.469,"y":0.513027},{"s":"IN","i":10,"x":17.299,"y":0.513054},
   {"s":"SW","i":0,"x":16.856,"y":0.512509},{"s":"SW","i":1,"x":16.924,"y":0.512666},{"s":"SW","i":2,"x":17.038,"y":0.512836},{"s":"SW","i":3,"x":17.128,"y":0.512864},{"s":"SW","i":4,"x":17.265,"y":0.512850},{"s":"SW","i":5,"x":17.401,"y":0.512795},{"s":"SW","i":6,"x":17.497,"y":0.512734},{"s":"SW","i":7,"x":17.456,"y":0.512666},{"s":"SW","i":8,"x":17.265,"y":0.512611},{"s":"SW","i":9,"x":17.094,"y":0.512564},{"s":"SW","i":10,"x":16.958,"y":0.512441},{"s":"SW","i":11,"x":16.876,"y":0.512393},
   {"s":"AS","i":0,"x":16.740,"y":0.512155},{"s":"AS","i":1,"x":16.822,"y":0.512291},{"s":"AS","i":2,"x":17.060,"y":0.512393},{"s":"AS","i":3,"x":17.299,"y":0.512461},{"s":"AS","i":4,"x":17.415,"y":0.512427},{"s":"AS","i":5,"x":17.367,"y":0.512325},{"s":"AS","i":6,"x":17.128,"y":0.512189},{"s":"AS","i":7,"x":16.924,"y":0.512052},{"s":"AS","i":8,"x":16.788,"y":0.512032}]},
   "mark": {"type": "line", "interpolate": "cardinal-closed", "stroke": "#555", "strokeWidth": 0.9},
   "encoding": {"detail": {"field": "s"}, "order": {"field": "i"}}},
  {"data": {"values": [
   {"s":"SA","i":0,"x":17.606,"y":0.513314},{"s":"SA","i":1,"x":18.014,"y":0.513327},{"s":"SA","i":2,"x":18.696,"y":0.513245},{"s":"SA","i":3,"x":19.446,"y":0.513143},{"s":"SA","i":4,"x":19.718,"y":0.513054},{"s":"SA","i":5,"x":19.718,"y":0.512891},{"s":"SA","i":6,"x":19.378,"y":0.512836},{"s":"SA","i":7,"x":18.901,"y":0.512802},{"s":"SA","i":8,"x":18.492,"y":0.512768},{"s":"SA","i":9,"x":18.219,"y":0.512734},{"s":"SA","i":10,"x":18.014,"y":0.512666},{"s":"SA","i":11,"x":17.947,"y":0.512530},{"s":"SA","i":12,"x":17.878,"y":0.512359},{"s":"SA","i":13,"x":17.810,"y":0.512427},{"s":"SA","i":14,"x":17.756,"y":0.512700},{"s":"SA","i":15,"x":17.797,"y":0.512973},{"s":"SA","i":16,"x":17.674,"y":0.513109},{"s":"SA","i":17,"x":17.606,"y":0.513245}]},
   "mark": {"type": "line", "interpolate": "cardinal-closed", "stroke": "#555", "strokeWidth": 0.9, "strokeDash": [4, 3], "clip": true},
   "encoding": {"detail": {"field": "s"}, "order": {"field": "i"}}},
  {"data": {"values": [
   {"s":"AR","i":0,"x":17.197,"y":0.512175},{"s":"AR","i":1,"x":17.674,"y":0.512182},{"s":"AR","i":2,"x":18.035,"y":0.512230},{"s":"AR","i":3,"x":18.219,"y":0.512345},{"s":"AR","i":4,"x":18.355,"y":0.512530},{"s":"AR","i":5,"x":18.457,"y":0.512734},{"s":"AR","i":6,"x":18.492,"y":0.512905},{"s":"AR","i":7,"x":18.437,"y":0.512925},{"s":"AR","i":8,"x":18.219,"y":0.512870},{"s":"AR","i":9,"x":17.878,"y":0.512768},{"s":"AR","i":10,"x":17.537,"y":0.512632},{"s":"AR","i":11,"x":17.367,"y":0.512509},{"s":"AR","i":12,"x":17.265,"y":0.512359},{"s":"AR","i":13,"x":17.197,"y":0.512223},
   {"s":"W","i":0,"x":17.483,"y":0.512393},{"s":"W","i":1,"x":17.572,"y":0.512496},{"s":"W","i":2,"x":17.878,"y":0.512632},{"s":"W","i":3,"x":18.219,"y":0.512802},{"s":"W","i":4,"x":18.478,"y":0.512918},{"s":"W","i":5,"x":18.492,"y":0.512864},{"s":"W","i":6,"x":18.219,"y":0.512700},{"s":"W","i":7,"x":17.878,"y":0.512496},{"s":"W","i":8,"x":17.606,"y":0.512325},{"s":"W","i":9,"x":17.504,"y":0.512305},
   {"s":"P","i":0,"x":17.674,"y":0.512427},{"s":"P","i":1,"x":17.947,"y":0.512598},{"s":"P","i":2,"x":18.219,"y":0.512755},{"s":"P","i":3,"x":18.457,"y":0.512905},{"s":"P","i":4,"x":18.505,"y":0.512946},{"s":"P","i":5,"x":18.519,"y":0.512878},{"s":"P","i":6,"x":18.287,"y":0.512700},{"s":"P","i":7,"x":18.014,"y":0.512530},{"s":"P","i":8,"x":17.742,"y":0.512373}]},
   "mark": {"type": "line", "interpolate": "cardinal-closed", "stroke": "#111", "strokeWidth": 2},
   "encoding": {"detail": {"field": "s"}, "order": {"field": "i"}}},
  {"data": {"values": [
   {"x":17.379,"y":0.513314,"x2":17.583,"y2":0.513302},{"x":19.492,"y":0.513189,"x2":19.571,"y2":0.513041},{"x":18.401,"y":0.512541,"x2":18.173,"y2":0.512620},{"x":18.163,"y":0.512159,"x2":18.037,"y2":0.512228},{"x":17.606,"y":0.511904,"x2":17.492,"y2":0.511996},{"x":17.310,"y":0.511564,"x2":17.106,"y2":0.511530}]},
   "mark": {"type": "rule", "stroke": "#444", "strokeWidth": 0.8},
   "encoding": {"x2": {"field": "x2"}, "y2": {"field": "y2"}}},
  {"data": {"values": [{"x":16.878,"y":0.511939,"x2":16.527,"y2":0.511643}]},
   "mark": {"type": "rule", "stroke": "#111", "strokeWidth": 1.6},
   "encoding": {"x2": {"field": "x2"}, "y2": {"field": "y2"}}},
  {"data": {"values": [{"x":16.527,"y":0.511643}]},
   "mark": {"type": "point", "shape": "triangle-up", "filled": true, "color": "#111", "size": 80, "angle": 230}},
  {"data": {"values": [
   {"t":"Pacific","x":17.219,"y":0.513314},{"t":"Indian","x":17.606,"y":0.513087},{"t":"N-Atlantic","x":19.469,"y":0.513241},{"t":"S-Atlantic","x":18.651,"y":0.512518},{"t":"Afanasy-Nikitin Rise","x":18.597,"y":0.512155},{"t":"NW Australia lamproites","x":18.151,"y":0.511877},{"t":"W","x":17.651,"y":0.512427},{"t":"P","x":18.355,"y":0.512814}]},
   "mark": {"type": "text", "align": "center", "baseline": "middle"},
   "encoding": {"text": {"field": "t"}}},
  {"data": {"values": [{"t":"Millindinna","x":17.321,"y":0.511638},{"t":"Complex","x":17.321,"y":0.511497}]},
   "mark": {"type": "text", "align": "left", "baseline": "middle"},
   "encoding": {"text": {"field": "t"}}},
  {"data": {"values": [{"t":"SWIR","x":17.083,"y":0.512741},{"t":"39°–41° E","x":17.140,"y":0.512643}]},
   "mark": {"type": "text", "align": "center", "baseline": "middle", "angle": 325},
   "encoding": {"text": {"field": "t"}}},
  {"data": {"values": [{"t":"Afanasy-","x":16.936,"y":0.512234},{"t":"Nikitin Smt.","x":17.049,"y":0.512155}]},
   "mark": {"type": "text", "align": "center", "baseline": "middle", "angle": 327},
   "encoding": {"text": {"field": "t"}}},
  {"data": {"values": [{"t":"Smokey","x":16.731,"y":0.511841},{"t":"Butte lamproite","x":16.895,"y":0.511882}]},
   "mark": {"type": "text", "align": "center", "baseline": "middle", "angle": 320},
   "encoding": {"text": {"field": "t"}}},
  {"data": {"values": [
   {"g":"EWP","x":17.807,"y":0.512809},{"g":"EWP","x":17.742,"y":0.512723},{"g":"EWP","x":17.890,"y":0.512688},{"g":"EWP","x":17.883,"y":0.512620},{"g":"EWP","x":17.299,"y":0.512496},{"g":"EWP","x":17.379,"y":0.512484},{"g":"EWP","x":17.440,"y":0.512552},{"g":"EWP","x":17.572,"y":0.512564},{"g":"EWP","x":17.355,"y":0.512416},{"g":"EWP","x":17.253,"y":0.512342},{"g":"EWP","x":17.311,"y":0.512348},{"g":"EWP","x":17.515,"y":0.512371},{"g":"EWP","x":17.572,"y":0.512432},{"g":"EWP","x":17.788,"y":0.512380},{"g":"EWP","x":17.946,"y":0.512405},{"g":"EWP","x":17.996,"y":0.512400},{"g":"EWP","x":18.344,"y":0.512727},{"g":"EWP","x":18.480,"y":0.512855},
   {"g":"AP","x":17.965,"y":0.513121},{"g":"AP","x":19.283,"y":0.512954},
   {"g":"UVS","x":17.867,"y":0.512518},{"g":"UVS","x":17.844,"y":0.512473},
   {"g":"VMP","x":17.799,"y":0.512684},{"g":"VMP","x":17.754,"y":0.512325},{"g":"VMP","x":18.333,"y":0.512718},{"g":"VMP","x":18.378,"y":0.512673},{"g":"VMP","x":18.601,"y":0.512712},{"g":"VMP","x":18.078,"y":0.512620},{"g":"VMP","x":18.037,"y":0.512568},{"g":"VMP","x":18.030,"y":0.512507},{"g":"VMP","x":17.958,"y":0.512455},{"g":"VMP","x":18.060,"y":0.512405},{"g":"VMP","x":18.814,"y":0.512904},{"g":"VMP","x":18.889,"y":0.512945},{"g":"VMP","x":17.587,"y":0.512200},
   {"g":"OUT","x":18.555,"y":0.512875},
   {"g":"CKP","x":18.837,"y":0.512818},{"g":"CKP","x":18.974,"y":0.512787},{"g":"CKP","x":19.242,"y":0.512848},
   {"g":"LVS","x":18.655,"y":0.512973},{"g":"LVS","x":18.889,"y":0.512780},{"g":"LVS","x":18.912,"y":0.512712},{"g":"LVS","x":18.964,"y":0.512712},{"g":"LVS","x":18.803,"y":0.512659},{"g":"LVS","x":19.203,"y":0.512802},{"g":"LVS","x":19.276,"y":0.512734},{"g":"LVS","x":19.560,"y":0.512841},{"g":"LVS","x":18.930,"y":0.512700}]},
   "layer": [
    {"mark": {"type": "point", "filled": true, "size": 150, "stroke": "#4a2a2a", "strokeWidth": 0.6, "opacity": 1},
     "encoding": {
      "shape": {"field": "g", "type": "nominal", "scale": {"domain": ["VMP","CKP","EWP","AP","LVS","UVS","OUT"], "range": ["triangle-up","triangle-up","circle","circle","triangle-up","circle","triangle-down"]}, "legend": null},
      "fill": {"field": "g", "type": "nominal", "scale": {"domain": ["VMP","CKP","EWP","AP","LVS","UVS","OUT"], "range": ["#e42a2d","#e42a2d","#38b5e6","#38b5e6","#f0e63c","#3ba339","#e42a2d"]}, "legend": null}}},
    {"transform": [{"filter": "datum.g=='CKP' || datum.g=='AP'"}],
     "mark": {"type": "point", "filled": true, "size": 28, "color": "white", "opacity": 1},
     "encoding": {
      "shape": {"field": "g", "type": "nominal", "scale": {"domain": ["VMP","CKP","EWP","AP","LVS","UVS","OUT"], "range": ["triangle-up","triangle-up","circle","circle","triangle-up","circle","triangle-down"]}, "legend": null}}}
   ]}
 ]
}
]
},
{
 "width": 470, "height": 264,
 "title": {"text": "c", "dx": -115, "offset": -14},
 "resolve": {"scale": {"x": "independent", "y": "independent"}},
 "layer": [
  {"data": {"values": [{"e": 0}]},
   "layer": [
    {"mark": {"type": "rule", "stroke": "#777", "strokeWidth": 1.8, "strokeDash": [5, 3]},
     "encoding": {"x": {"field": "e", "type": "quantitative", "scale": {"domain": [-34.9, 14.8]},
      "axis": {"orient": "top", "title": "E Nd", "titlePadding": 8, "labelOverlap": false, "values": [-34,-33,-32,-31,-30,-29,-28,-27,-26,-25,-24,-23,-22,-21,-20,-19,-18,-17,-16,-15,-14,-13,-12,-11,-10,-9,-8,-7,-6,-5,-4,-3,-2,-1,0,1,2,3,4,5,6,7,8,9,10,11,12,13,14],
       "labelExpr": "datum.value==-5 ? '−5.0' : datum.value==5 ? '5.0' : abs(datum.value%5)<0.01 ? (datum.value<0 ? '−'+abs(datum.value) : ''+datum.value) : ''",
       "tickSize": {"condition": {"test": "abs(datum.value%5)<0.01", "value": 6}, "value": 3}}}}},
    {"mark": {"type": "rule", "stroke": "#999", "strokeWidth": 1, "strokeDash": [4, 3]},
     "encoding": {"y": {"field": "e", "type": "quantitative", "scale": {"domain": [-50, 40]},
      "axis": {"orient": "right", "title": "E Hf", "titlePadding": 8, "labelOverlap": false, "values": [-50,-48,-46,-44,-42,-40,-38,-36,-34,-32,-30,-28,-26,-24,-22,-20,-18,-16,-14,-12,-10,-8,-6,-4,-2,0,2,4,6,8,10,12,14,16,18,20,22,24,26,28,30,32,34,36,38,40],
       "labelExpr": "abs(datum.value%10)<0.01 ? (datum.value<0 ? '−'+abs(datum.value) : ''+datum.value) : ''",
       "tickSize": {"condition": {"test": "abs(datum.value%10)<0.01", "value": 6}, "value": 3}}}}}
   ]},
  {"encoding": {
    "x": {"field": "x", "type": "quantitative", "scale": {"domain": [0.510894, 0.513394]},
     "axis": {"orient": "bottom", "title": "¹⁴³Nd/¹⁴⁴Nd", "titlePadding": 6, "labelOverlap": false, "values": [0.5109,0.511,0.5111,0.5112,0.5113,0.5114,0.5115,0.5116,0.5117,0.5118,0.5119,0.512,0.5121,0.5122,0.5123,0.5124,0.5125,0.5126,0.5127,0.5128,0.5129,0.513,0.5131,0.5132,0.5133],
      "labelExpr": "abs(datum.value*2000-round(datum.value*2000))<0.01 ? format(datum.value,'.4f') : ''",
      "tickSize": {"condition": {"test": "abs(datum.value*2000-round(datum.value*2000))<0.01", "value": 6}, "value": 3}}},
    "y": {"field": "y", "type": "quantitative", "scale": {"domain": [0.281388, 0.283905]},
     "axis": {"orient": "left", "title": "¹⁷⁶Hf/¹⁷⁷Hf", "titlePadding": 10, "labelOverlap": false, "values": [0.2814,0.2815,0.2816,0.2817,0.2818,0.2819,0.282,0.2821,0.2822,0.2823,0.2824,0.2825,0.2826,0.2827,0.2828,0.2829,0.283,0.2831,0.2832,0.2833,0.2834,0.2835,0.2836,0.2837,0.2838,0.2839],
      "labelExpr": "abs(datum.value*2000-round(datum.value*2000))<0.01 ? format(datum.value,'.4f') : ''",
      "tickSize": {"condition": {"test": "abs(datum.value*2000-round(datum.value*2000))<0.01", "value": 6}, "value": 3}}}
   },
   "layer": [
   {"data": {"values": [
    {"s":"NA","i":0,"x":0.512984,"y":0.283397},{"s":"NA","i":1,"x":0.513055,"y":0.283476},{"s":"NA","i":2,"x":0.513214,"y":0.283509},{"s":"NA","i":3,"x":0.513250,"y":0.283461},{"s":"NA","i":4,"x":0.513246,"y":0.283381},{"s":"NA","i":5,"x":0.513197,"y":0.283286},{"s":"NA","i":6,"x":0.513055,"y":0.283223},{"s":"NA","i":7,"x":0.512984,"y":0.283223},{"s":"NA","i":8,"x":0.512975,"y":0.283318}]},
    "mark": {"type": "line", "interpolate": "cardinal-closed", "fill": "#d2d2d2", "stroke": "#555", "strokeWidth": 1},
    "encoding": {"detail": {"field": "s"}, "order": {"field": "i"}}},
   {"data": {"values": [
    {"s":"PA","i":0,"x":0.512947,"y":0.283111},{"s":"PA","i":1,"x":0.513037,"y":0.283207},{"s":"PA","i":2,"x":0.513197,"y":0.283321},{"s":"PA","i":3,"x":0.513277,"y":0.283369},{"s":"PA","i":4,"x":0.513303,"y":0.283302},{"s":"PA","i":5,"x":0.513223,"y":0.283159},{"s":"PA","i":6,"x":0.513090,"y":0.283064},{"s":"PA","i":7,"x":0.512957,"y":0.283045}]},
    "encoding": {"detail": {"field": "s"}, "order": {"field": "i"}},
    "layer": [
     {"mark": {"type": "line", "interpolate": "cardinal-closed", "style": "hatchC1", "strokeWidth": 0}},
     {"mark": {"type": "line", "interpolate": "cardinal-closed", "style": "hatchC2", "stroke": "#444", "strokeWidth": 0.8}}
    ]},
   {"data": {"values": [
    {"s":"IL","i":0,"x":0.511096,"y":0.281651},{"s":"IL","i":1,"x":0.511140,"y":0.281730},{"s":"IL","i":2,"x":0.511282,"y":0.281969},{"s":"IL","i":3,"x":0.511406,"y":0.282207},{"s":"IL","i":4,"x":0.511441,"y":0.282232},{"s":"IL","i":5,"x":0.511486,"y":0.282190},{"s":"IL","i":6,"x":0.511530,"y":0.282016},{"s":"IL","i":7,"x":0.511552,"y":0.281857},{"s":"IL","i":8,"x":0.511539,"y":0.281810},{"s":"IL","i":9,"x":0.511441,"y":0.281747},{"s":"IL","i":10,"x":0.511282,"y":0.281683},{"s":"IL","i":11,"x":0.511140,"y":0.281588},{"s":"IL","i":12,"x":0.511101,"y":0.281604}]},
    "mark": {"type": "line", "interpolate": "cardinal-closed", "fill": "#8f8f8f", "stroke": "#555", "strokeWidth": 1},
    "encoding": {"detail": {"field": "s"}, "order": {"field": "i"}}},
   {"data": {"values": [
    {"s":"IN","i":0,"x":0.512362,"y":0.282873},{"s":"IN","i":1,"x":0.512399,"y":0.282950},{"s":"IN","i":2,"x":0.512612,"y":0.283111},{"s":"IN","i":3,"x":0.512913,"y":0.283273},{"s":"IN","i":4,"x":0.513053,"y":0.283426},{"s":"IN","i":5,"x":0.513213,"y":0.283530},{"s":"IN","i":6,"x":0.513271,"y":0.283502},{"s":"IN","i":7,"x":0.513261,"y":0.283407},{"s":"IN","i":8,"x":0.513117,"y":0.283254},{"s":"IN","i":9,"x":0.512984,"y":0.283140},{"s":"IN","i":10,"x":0.512771,"y":0.282969},{"s":"IN","i":11,"x":0.512558,"y":0.282797},{"s":"IN","i":12,"x":0.512399,"y":0.282702},{"s":"IN","i":13,"x":0.512356,"y":0.282759},
    {"s":"PI","i":0,"x":0.512293,"y":0.282683},{"s":"PI","i":1,"x":0.512319,"y":0.282759},{"s":"PI","i":2,"x":0.512399,"y":0.282778},{"s":"PI","i":3,"x":0.512452,"y":0.282730},{"s":"PI","i":4,"x":0.512399,"y":0.282635},{"s":"PI","i":5,"x":0.512319,"y":0.282607}]},
    "mark": {"type": "line", "interpolate": "cardinal-closed", "stroke": "#555", "strokeWidth": 0.9},
    "encoding": {"detail": {"field": "s"}, "order": {"field": "i"}}},
   {"data": {"values": [
    {"s":"WA","i":0,"x":0.512356,"y":0.282778},{"s":"WA","i":1,"x":0.512372,"y":0.282892},{"s":"WA","i":2,"x":0.512558,"y":0.283016},{"s":"WA","i":3,"x":0.512771,"y":0.283159},{"s":"WA","i":4,"x":0.512904,"y":0.283254},{"s":"WA","i":5,"x":0.512941,"y":0.283216},{"s":"WA","i":6,"x":0.512824,"y":0.283111},{"s":"WA","i":7,"x":0.512612,"y":0.282969},{"s":"WA","i":8,"x":0.512426,"y":0.282826},{"s":"WA","i":9,"x":0.512372,"y":0.282759}]},
    "mark": {"type": "line", "interpolate": "cardinal-closed", "stroke": "#222", "strokeWidth": 1.5},
    "encoding": {"detail": {"field": "s"}, "order": {"field": "i"}}},
   {"data": {"values": [
    {"s":"SA","i":0,"x":0.512452,"y":0.282635},{"s":"SA","i":1,"x":0.512558,"y":0.282778},{"s":"SA","i":2,"x":0.512771,"y":0.282921},{"s":"SA","i":3,"x":0.512984,"y":0.283083},{"s":"SA","i":4,"x":0.513197,"y":0.283273},{"s":"SA","i":5,"x":0.513277,"y":0.283407},{"s":"SA","i":6,"x":0.513314,"y":0.283445},{"s":"SA","i":7,"x":0.513330,"y":0.283369},{"s":"SA","i":8,"x":0.513277,"y":0.283254},{"s":"SA","i":9,"x":0.513117,"y":0.283083},{"s":"SA","i":10,"x":0.512878,"y":0.282969},{"s":"SA","i":11,"x":0.512665,"y":0.282797},{"s":"SA","i":12,"x":0.512505,"y":0.282588},{"s":"SA","i":13,"x":0.512452,"y":0.282569}]},
    "mark": {"type": "line", "interpolate": "cardinal-closed", "stroke": "#222", "strokeWidth": 1.4, "strokeDash": [5, 3]},
    "encoding": {"detail": {"field": "s"}, "order": {"field": "i"}}},
   {"data": {"values": [{"x":0.511669,"y":0.282054,"x2":0.513388,"y2":0.283445}]},
    "mark": {"type": "rule", "stroke": "#ababab", "strokeWidth": 4},
    "encoding": {"x2": {"field": "x2"}, "y2": {"field": "y2"}}},
   {"data": {"values": [
    {"x":0.513055,"y":0.283571,"x2":0.513108,"y2":0.283492},{"x":0.512727,"y":0.283366,"x2":0.512860,"y2":0.283223},{"x":0.512576,"y":0.283111,"x2":0.512621,"y2":0.283032},{"x":0.512283,"y":0.282810,"x2":0.512319,"y2":0.282714},{"x":0.513144,"y":0.283000,"x2":0.513108,"y2":0.283064},{"x":0.512984,"y":0.282778,"x2":0.512931,"y2":0.283000}]},
    "mark": {"type": "rule", "stroke": "#444", "strokeWidth": 0.8},
    "encoding": {"x2": {"field": "x2"}, "y2": {"field": "y2"}}},
   {"data": {"values": [
    {"t":"N-Atlantic","x":0.512891,"y":0.283578},{"t":"Indian","x":0.512622,"y":0.283388},{"t":"Walvis","x":0.512489,"y":0.283181},{"t":"Pitcairn","x":0.512189,"y":0.282857},{"t":"Pacific","x":0.513259,"y":0.282899},{"t":"S-Atlantic","x":0.513150,"y":0.282667}]},
    "mark": {"type": "text", "align": "center", "baseline": "middle"},
    "encoding": {"text": {"field": "t"}}},
   {"data": {"values": [{"t":"Mantle Array","x":0.511925,"y":0.282350}]},
    "mark": {"type": "text", "align": "center", "baseline": "middle", "angle": 336},
    "encoding": {"text": {"field": "t"}}},
   {"data": {"values": [{"t":"Indian","x":0.511340,"y":0.281985},{"t":"lamproites","x":0.511371,"y":0.281826}]},
    "mark": {"type": "text", "align": "center", "baseline": "middle", "angle": 330, "color": "white"},
    "encoding": {"text": {"field": "t"}}},
   {"data": {"values": [
    {"g":"EWP","x":0.512363,"y":0.282524},{"g":"EWP","x":0.512390,"y":0.282556},{"g":"EWP","x":0.512426,"y":0.282604},{"g":"EWP","x":0.512488,"y":0.282683},{"g":"EWP","x":0.512505,"y":0.282714},{"g":"EWP","x":0.512568,"y":0.282762},{"g":"EWP","x":0.512558,"y":0.282794},{"g":"EWP","x":0.512580,"y":0.282802},{"g":"EWP","x":0.512682,"y":0.282890},{"g":"EWP","x":0.512727,"y":0.282905},
    {"g":"AP","x":0.512943,"y":0.283200},{"g":"AP","x":0.513113,"y":0.283166},
    {"g":"UVS","x":0.512482,"y":0.282930},{"g":"UVS","x":0.512514,"y":0.282930},
    {"g":"LVS","x":0.512661,"y":0.282826},{"g":"LVS","x":0.512736,"y":0.282905},{"g":"LVS","x":0.512833,"y":0.282937},{"g":"LVS","x":0.512975,"y":0.283190},{"g":"LVS","x":0.512803,"y":0.282959},
    {"g":"VMP","x":0.512222,"y":0.282476},{"g":"VMP","x":0.512337,"y":0.282476},{"g":"VMP","x":0.512416,"y":0.282550},{"g":"VMP","x":0.512461,"y":0.282571},{"g":"VMP","x":0.512461,"y":0.282635},{"g":"VMP","x":0.512518,"y":0.282683},{"g":"VMP","x":0.512665,"y":0.282778},{"g":"VMP","x":0.512718,"y":0.282778},{"g":"VMP","x":0.512709,"y":0.282873},{"g":"VMP","x":0.512940,"y":0.283121},
    {"g":"CKP","x":0.512786,"y":0.282937},{"g":"CKP","x":0.512842,"y":0.283016},
    {"g":"OUT","x":0.512863,"y":0.283102}]},
    "layer": [
     {"mark": {"type": "point", "filled": true, "size": 150, "stroke": "#4a2a2a", "strokeWidth": 0.6, "opacity": 1},
      "encoding": {
       "shape": {"field": "g", "type": "nominal", "scale": {"domain": ["VMP","CKP","EWP","AP","LVS","UVS","OUT"], "range": ["triangle-up","triangle-up","circle","circle","triangle-up","circle","triangle-down"]}, "legend": null},
       "fill": {"field": "g", "type": "nominal", "scale": {"domain": ["VMP","CKP","EWP","AP","LVS","UVS","OUT"], "range": ["#e42a2d","#e42a2d","#38b5e6","#38b5e6","#f0e63c","#3ba339","#e42a2d"]}, "legend": null}}},
     {"transform": [{"filter": "datum.g=='CKP' || datum.g=='AP'"}],
      "mark": {"type": "point", "filled": true, "size": 28, "color": "white", "opacity": 1},
      "encoding": {
       "shape": {"field": "g", "type": "nominal", "scale": {"domain": ["VMP","CKP","EWP","AP","LVS","UVS","OUT"], "range": ["triangle-up","triangle-up","circle","circle","triangle-up","circle","triangle-down"]}, "legend": null}}}
    ]}
  ]}
 ]
}
]
}
